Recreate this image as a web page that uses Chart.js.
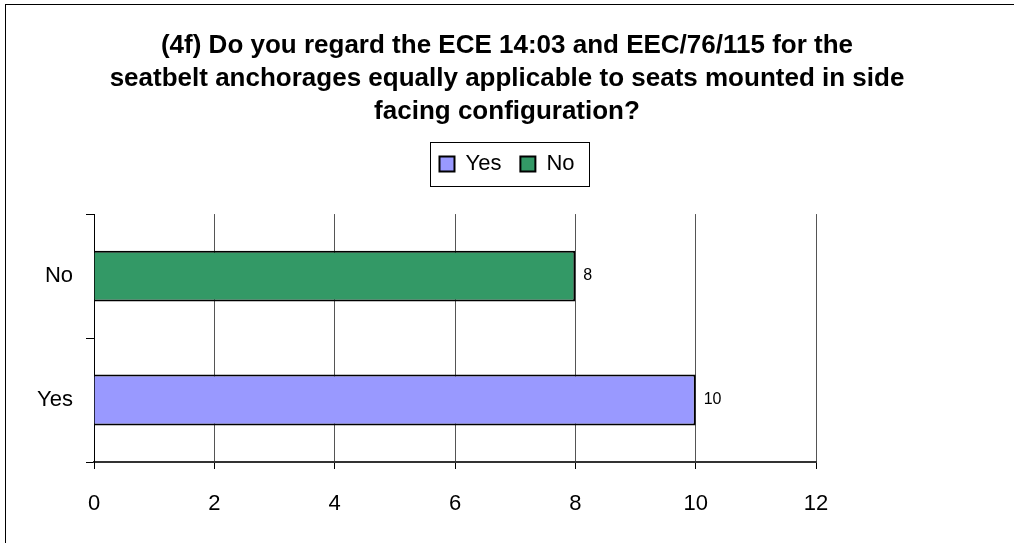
<!DOCTYPE html>
<html lang="en">
<head>
  <meta charset="UTF-8" />
  <title>Seatbelt anchorages survey</title>
  <script src="https://cdn.jsdelivr.net/npm/chart.js"></script>
  <style>
    html, body { margin: 0; padding: 0; background: #fff; overflow: hidden; }
    .wrap { position: relative; width: 1014px; height: 543px; }
    .frame {
      position: absolute; left: 5px; top: 4px; width: 2000px; height: 2000px;
      border: 1.5px solid #000; pointer-events: none;
    }
  </style>
</head>
<body>
  <div class="wrap">
    <canvas id="chart" width="1014" height="543"></canvas>
    <div class="frame"></div>
  </div>

  <script>
    const titleLines = [
      "(4f) Do you regard the ECE 14:03 and EEC/76/115 for the",
      "seatbelt anchorages equally applicable to seats mounted in side",
      "facing configuration?"
    ];
    const categories = ["Yes", "No"];
    const yesValues = [10, null];
    const noValues = [null, 8];
    const xTicks = { min: 0, max: 12, step: 2 };

    const FONT = "'Liberation Sans', Arial, sans-serif";

    // bar value next to the end of each bar
    const valueLabels = {
      id: "valueLabels",
      afterDatasetsDraw(chart) {
        const ctx = chart.ctx;
        ctx.save();
        ctx.font = "16px " + FONT;
        ctx.fillStyle = "#000";
        ctx.textBaseline = "middle";
        ctx.textAlign = "left";
        chart.data.datasets.forEach((ds, i) => {
          chart.getDatasetMeta(i).data.forEach((bar, j) => {
            if (ds.data[j] == null) return;
            ctx.fillText(ds.data[j], bar.x + 8, bar.y);
          });
        });
        ctx.restore();
      }
    };

    // box round the legend, plus a gap below it
    const legendFrame = {
      id: "legendFrame",
      beforeInit(chart) {
        const fit = chart.legend.fit;
        chart.legend.fit = function () {
          fit.bind(chart.legend)();
          this.height += 29;
        };
      },
      afterDraw(chart) {
        const boxes = chart.legend.legendHitBoxes;
        if (!boxes || !boxes.length) return;
        const first = boxes[0];
        const last = boxes[boxes.length - 1];
        const ctx = chart.ctx;
        ctx.save();
        ctx.strokeStyle = "#000";
        ctx.lineWidth = 1;
        const l = Math.round(first.left - 9) + 0.5;
        const r = Math.round(last.left + last.width + 14) + 0.5;
        const t = Math.round(first.top - 11) + 0.5;
        const b = Math.round(first.top + first.height + 11) + 0.5;
        ctx.strokeRect(l, t, r - l, b - t);
        ctx.restore();
      }
    };

    const chart = new Chart(document.getElementById("chart"), {
      type: "bar",
      data: {
        labels: categories,
        datasets: [
          {
            label: "Yes",
            data: yesValues,
            backgroundColor: "#9999FF",
            borderColor: "#000",
            borderWidth: 2,
          },
          {
            label: "No",
            data: noValues,
            backgroundColor: "#339966",
            borderColor: "#000",
            borderWidth: 2,
          },
        ],
      },
      options: {
        responsive: false,
        animation: false,
        indexAxis: "y",
        skipNull: true,
        barPercentage: 1,
        categoryPercentage: 0.41,
        layout: { padding: { left: 0, right: 0, top: 0, bottom: 0 } },
        plugins: {
          title: {
            display: true,
            text: titleLines,
            color: "#000",
            font: { family: FONT, size: 26, weight: "bold", lineHeight: 1.27 },
            padding: { top: 29, bottom: 6 },
          },
          legend: {
            display: true,
            position: "top",
            labels: {
              color: "#000",
              font: { family: FONT, size: 22 },
              boxWidth: 15,
              boxHeight: 15,
              padding: 19,
            },
          },
          tooltip: { enabled: false },
        },
        scales: {
          x: {
            min: xTicks.min,
            max: xTicks.max,
            ticks: {
              stepSize: xTicks.step,
              color: "#000",
              font: { family: FONT, size: 22 },
              padding: 22,
            },
            grid: { color: "#555", lineWidth: 1, tickLength: 7, tickColor: "#000" },
            border: { color: "#333", width: 2 },
            afterFit(scale) { scale.height = 81; },
          },
          y: {
            reverse: true,
            ticks: {
              color: "#000",
              font: { family: FONT, size: 22 },
              padding: 13,
            },
            grid: { drawOnChartArea: false, tickLength: 8, color: "#000" },
            border: { color: "#000", width: 1 },
            afterFit(scale) { scale.width = 94; },
          },
          spacer: {
            type: "category",
            position: "right",
            grid: { display: false },
            border: { display: false },
            ticks: { display: false },
            afterFit(scale) { scale.width = 198; },
          },
        },
      },
      plugins: [valueLabels, legendFrame],
    });
  </script>
</body>
</html>
